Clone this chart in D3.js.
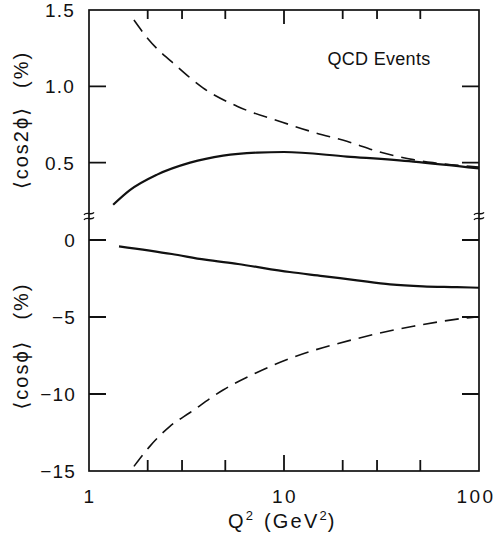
<!DOCTYPE html>
<html>
<head>
<meta charset="utf-8">
<script src="https://cdn.jsdelivr.net/npm/d3@7"></script>
<style>
  html, body { margin: 0; padding: 0; background: #fff; }
  svg text { font-family: "Liberation Sans", "DejaVu Sans", sans-serif; fill: #111; }
</style>
</head>
<body>
<svg id="chart" width="502" height="544"></svg>
<script>
// <cos 2phi> (upper panel, %) versus Q^2 for QCD events
const cos2SolidQ2 = [1.33, 1.62, 2.22, 3.3, 4.87, 7.27, 10, 21, 46, 100];
const cos2Solid   = [0.224, 0.32, 0.42, 0.50, 0.546, 0.566, 0.57, 0.54, 0.507, 0.462];
const cos2DashQ2  = [1.70, 2.01, 2.83, 3.84, 5.74, 9.8, 14.1, 21, 31, 46, 58, 100];
const cos2Dash    = [1.434, 1.31, 1.13, 0.99, 0.87, 0.765, 0.70, 0.64, 0.57, 0.52, 0.50, 0.472];

// <cos phi> (lower panel, %) versus Q^2
const cos1SolidQ2 = [1.425, 2.66, 3.94, 5.81, 10.7, 15.8, 23.7, 35, 51.6, 77.1, 100];
const cos1Solid   = [-0.41, -0.91, -1.28, -1.56, -2.08, -2.34, -2.62, -2.88, -3.01, -3.06, -3.10];
const cos1DashQ2  = [1.70, 2.05, 2.6, 3.3, 4.87, 7.27, 10.7, 23.7, 46, 86.8, 100];
const cos1Dash    = [-14.7, -13.4, -12.1, -11.2, -9.74, -8.6, -7.7, -6.4, -5.6, -5.06, -4.98];

// Tick values and labels
const xMajorTicks = [10];
const xMinorTicks = [2, 3, 5, 20, 30, 50];
const xTickLabels = [1, 10, 100];
const upperTicks = [0.5, 1.0];
const upperTickLabels = [0.5, 1.0, 1.5];
const lowerTicks = [0, -5, -10];
const lowerTickLabels = [0, -5, -10, -15];

const svg = d3.select("#chart");
const L = 89, R = 479, T = 10, B = 471;

const x = d3.scaleLog().domain([1, 100]).range([L, R]);
const yUp = d3.scaleLinear().domain([0, 1.5]).range([239, T]);
const yLo = d3.scaleLinear().domain([0, -15]).range([240, B]);

const ink = "#111";

// frame
svg.append("rect")
  .attr("x", L).attr("y", T).attr("width", R - L).attr("height", B - T)
  .attr("fill", "none").attr("stroke", ink).attr("stroke-width", 1.7);

// inward tick marks on all four sides
const tickSegs = [];
xMajorTicks.forEach(d => { tickSegs.push([x(d), B, x(d), B - 16]); tickSegs.push([x(d), T, x(d), T + 14]); });
xMinorTicks.forEach(d => { tickSegs.push([x(d), B, x(d), B - 11]); tickSegs.push([x(d), T, x(d), T + 9]); });
[[yUp, upperTicks], [yLo, lowerTicks]].forEach(([sc, vals]) => {
  vals.forEach(d => {
    tickSegs.push([L, sc(d), L + 17, sc(d)]);
    tickSegs.push([R, sc(d), R - 17, sc(d)]);
  });
});
svg.append("path")
  .attr("d", tickSegs.map(s => `M${s[0]},${s[1]}L${s[2]},${s[3]}`).join(""))
  .attr("fill", "none").attr("stroke", ink).attr("stroke-width", 1.8);

// tick labels
const fmt1 = d3.format(".1f");
svg.append("g").selectAll("text").data(upperTickLabels).join("text")
  .attr("x", 75).attr("y", d => yUp(d)).attr("dy", "0.36em")
  .attr("text-anchor", "end").attr("font-size", 19).attr("letter-spacing", 1.2)
  .text(d => fmt1(d));
svg.append("g").selectAll("text").data(lowerTickLabels).join("text")
  .attr("x", 76).attr("y", d => yLo(d)).attr("dy", "0.36em")
  .attr("text-anchor", "end").attr("font-size", 19).attr("letter-spacing", 1.2)
  .text(d => d === 0 ? "0" : "\u2212" + Math.abs(d));
svg.append("g").selectAll("text").data(xTickLabels).join("text")
  .attr("x", d => x(d) + (d === 100 ? -3 : 1)).attr("y", 503)
  .attr("text-anchor", "middle").attr("font-size", 19).attr("letter-spacing", 2.5)
  .text(d => d);

// axis break marks on both vertical edges
const yBreak = yUp(0.15);
[L, R].forEach(cx => {
  [-2.5, 2.5].forEach(off => {
    const y0 = yBreak + off;
    svg.append("path")
      .attr("d", `M${cx - 5},${y0 + 1.2} C${cx - 2.5},${y0 - 2.5} ${cx + 2.5},${y0 + 2.5} ${cx + 5},${y0 - 1.2}`)
      .attr("fill", "none").attr("stroke", ink).attr("stroke-width", 1.3);
  });
});

// curves
const lineUp = d3.line().x(d => x(d[0])).y(d => yUp(d[1])).curve(d3.curveMonotoneX);
const lineLo = d3.line().x(d => x(d[0])).y(d => yLo(d[1])).curve(d3.curveMonotoneX);
const zip = (a, b) => a.map((v, i) => [v, b[i]]);

svg.append("path").attr("d", lineUp(zip(cos2SolidQ2, cos2Solid)))
  .attr("fill", "none").attr("stroke", ink).attr("stroke-width", 2.2);
svg.append("path").attr("d", lineUp(zip(cos2DashQ2, cos2Dash)))
  .attr("fill", "none").attr("stroke", ink).attr("stroke-width", 1.6)
  .attr("stroke-dasharray", "14,8");
svg.append("path").attr("d", lineLo(zip(cos1SolidQ2, cos1Solid)))
  .attr("fill", "none").attr("stroke", ink).attr("stroke-width", 2.2);
svg.append("path").attr("d", lineLo(zip(cos1DashQ2, cos1Dash)))
  .attr("fill", "none").attr("stroke", ink).attr("stroke-width", 1.6)
  .attr("stroke-dasharray", "14,8");

// panel title
svg.append("text").attr("x", 379).attr("y", 65)
  .attr("text-anchor", "middle").attr("font-size", 18).attr("letter-spacing", 0.3)
  .text("QCD Events");

// axis titles
const yt1 = svg.append("text").attr("transform", "translate(28,120) rotate(-90)")
  .attr("text-anchor", "middle").attr("font-size", 20).attr("letter-spacing", 2);
yt1.append("tspan").text("\u27E8cos2\u03D5\u27E9");
yt1.append("tspan").attr("dx", 18).text("(%)");

const yt2 = svg.append("text").attr("transform", "translate(28,346) rotate(-90)")
  .attr("text-anchor", "middle").attr("font-size", 20).attr("letter-spacing", 2);
yt2.append("tspan").text("\u27E8cos\u03D5\u27E9");
yt2.append("tspan").attr("dx", 20).text("(%)");

const xt = svg.append("text").attr("x", 228).attr("y", 528)
  .attr("font-size", 20).attr("letter-spacing", 2.2);
xt.append("tspan").text("Q");
xt.append("tspan").attr("dy", -8).attr("font-size", 13).attr("letter-spacing", 0).text("2");
xt.append("tspan").attr("dy", 8).attr("dx", 11).text("(GeV");
xt.append("tspan").attr("dy", -8).attr("font-size", 13).attr("letter-spacing", 1).text("2");
xt.append("tspan").attr("dy", 8).text(")");
</script>
</body>
</html>
